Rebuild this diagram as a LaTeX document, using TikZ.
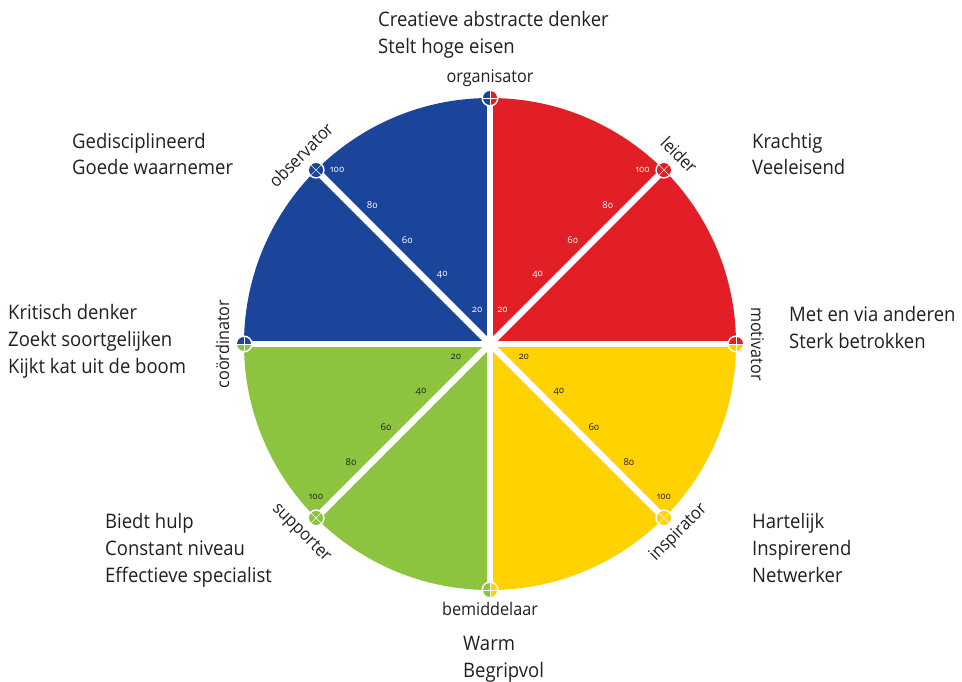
\documentclass[tikz,border=0pt]{standalone}
\usepackage{fontspec}
\setmainfont{Open Sans}
\newfontfamily\descfont[FakeStretch=0.925]{Open Sans}
\newfontfamily\numfont[Numbers=OldStyle]{Open Sans}
\definecolor{cblue}{RGB}{27,69,155}
\definecolor{cred}{RGB}{226,30,38}
\definecolor{cyel}{RGB}{255,210,0}
\definecolor{cgreen}{RGB}{140,196,64}
\definecolor{ctext}{RGB}{35,31,32}
\newcommand\xmarker[2]{%
  \begin{scope}[shift={(#1)}]
    \fill[white] (0,0) circle (8.6);
    \fill[#2] (0,0) circle (7);
    \draw[white,line width=0.5pt] (-4.95,-4.95)--(4.95,4.95) (-4.95,4.95)--(4.95,-4.95);
  \end{scope}}
\newcommand\vmarker[3]{%
  \begin{scope}[shift={(#1)}]
    \fill[white] (0,0) circle (8.6);
    \begin{scope}
      \clip (0,0) circle (7);
      \fill[#2] (-8,-8) rectangle (0,8);
      \fill[#3] (0,-8) rectangle (8,8);
    \end{scope}
    \draw[white,line width=0.5pt] (0,-7)--(0,7) (-7,0)--(7,0);
  \end{scope}}
\newcommand\hmarker[3]{%
  \begin{scope}[shift={(#1)}]
    \fill[white] (0,0) circle (8.6);
    \begin{scope}
      \clip (0,0) circle (7);
      \fill[#2] (-8,-8) rectangle (8,0);
      \fill[#3] (-8,0) rectangle (8,8);
    \end{scope}
    \draw[white,line width=0.5pt] (0,-7)--(0,7) (-7,0)--(7,0);
  \end{scope}}
\begin{document}
\begin{tikzpicture}[x=1pt,y=-1pt,
  spoke/.style={white,line width=6.5pt},
  numlbl/.style={font=\numfont\fontsize{9.5}{10}\selectfont,inner sep=0pt},
  role/.style={font=\descfont\fontsize{17.5}{20}\selectfont,text=ctext,inner sep=0pt,anchor=base},
  desc/.style={font=\descfont\fontsize{20}{26.7}\selectfont,text=ctext,inner sep=0pt,align=left,anchor=base west}]
\useasboundingbox[fill=white] (0,0) rectangle (962,682);
\coordinate (c) at (490,344);
\def\R{246}
% sectors
\fill[cblue] (c) -- ++(180:\R) arc[start angle=180,end angle=270,radius=\R] -- cycle;
\fill[cred] (c) -- ++(270:\R) arc[start angle=270,end angle=360,radius=\R] -- cycle;
\fill[cyel] (c) -- ++(0:\R) arc[start angle=0,end angle=90,radius=\R] -- cycle;
\fill[cgreen] (c) -- ++(90:\R) arc[start angle=90,end angle=180,radius=\R] -- cycle;
% rim points
\path (c) ++(270:\R) coordinate (top);
\path (c) ++(90:\R) coordinate (bot);
\path (c) ++(180:\R) coordinate (lft);
\path (c) ++(0:\R) coordinate (rgt);
\path (c) ++(225:\R) coordinate (ul);
\path (c) ++(315:\R) coordinate (ur);
\path (c) ++(45:\R) coordinate (lr);
\path (c) ++(135:\R) coordinate (ll);
% spokes
\draw[spoke] (top) -- (bot);
\draw[spoke] (lft) -- (rgt);
\draw[spoke] (c) -- (ul);
\draw[spoke] (c) -- (ur);
\draw[spoke] (c) -- (lr);
\draw[spoke] (c) -- (ll);
% markers
\vmarker{top}{cblue}{cred}
\vmarker{bot}{cgreen}{cyel}
\hmarker{lft}{cblue}{cgreen}
\hmarker{rgt}{cred}{cyel}
\xmarker{ul}{cblue}
\xmarker{ur}{cred}
\xmarker{lr}{cyel}
\xmarker{ll}{cgreen}
% scale numbers
\foreach \i/\v in {0/20,1/40,2/60,3/80,4/100}{
  \path (c) ++(315:{33+49.5*\i}) ++(225:15) node[numlbl,text=white] (nur\v) {\v};
  \path (c) ++(225:{33+49.5*\i}) ++(315:15) node[numlbl,text=white] (nul\v) {\v};
  \path (c) ++(45:{33+49.5*\i}) ++(315:15) node[numlbl,text=ctext] (nlr\v) {\v};
  \path (c) ++(135:{33+49.5*\i}) ++(225:15) node[numlbl,text=ctext] (nll\v) {\v};
}
% role labels
\path (c) ++(270:261) node[role] (organisator) {organisator};
\path (c) ++(315:261) node[role,rotate=-45] (leider) {leider};
\path (c) ++(0:261) node[role,rotate=-90] (motivator) {motivator};
\path (c) ++(45:271) node[role,rotate=45] (inspirator) {inspirator};
\path (c) ++(90:271) node[role] (bemiddelaar) {bemiddelaar};
\path (c) ++(135:271) node[role,rotate=-45] (supporter) {supporter};
\path (c) ++(180:261) node[role,rotate=90] (coordinator) {coördinator};
\path (c) ++(225:261) node[role,rotate=45] (observator) {observator};
% descriptions (anchor = baseline of last line)
\node[desc] (dtop) at (378,53.4) {Creatieve abstracte denker\\Stelt hoge eisen};
\node[desc] (dleider) at (752,175) {Krachtig\\Veeleisend};
\node[desc] (dmot) at (789,348) {Met en via anderen\\Sterk betrokken};
\node[desc] (dinsp) at (752,582) {Hartelijk\\Inspirerend\\Netwerker};
\node[desc] (dbem) at (463,677) {Warm\\Begripvol};
\node[desc] (dsup) at (105,582) {Biedt hulp\\Constant niveau\\Effectieve specialist};
\node[desc] (dcoord) at (8,373) {Kritisch denker\\Zoekt soortgelijken\\Kijkt kat uit de boom};
\node[desc] (dobs) at (72,175) {Gedisciplineerd\\Goede waarnemer};
\end{tikzpicture}
\end{document}
